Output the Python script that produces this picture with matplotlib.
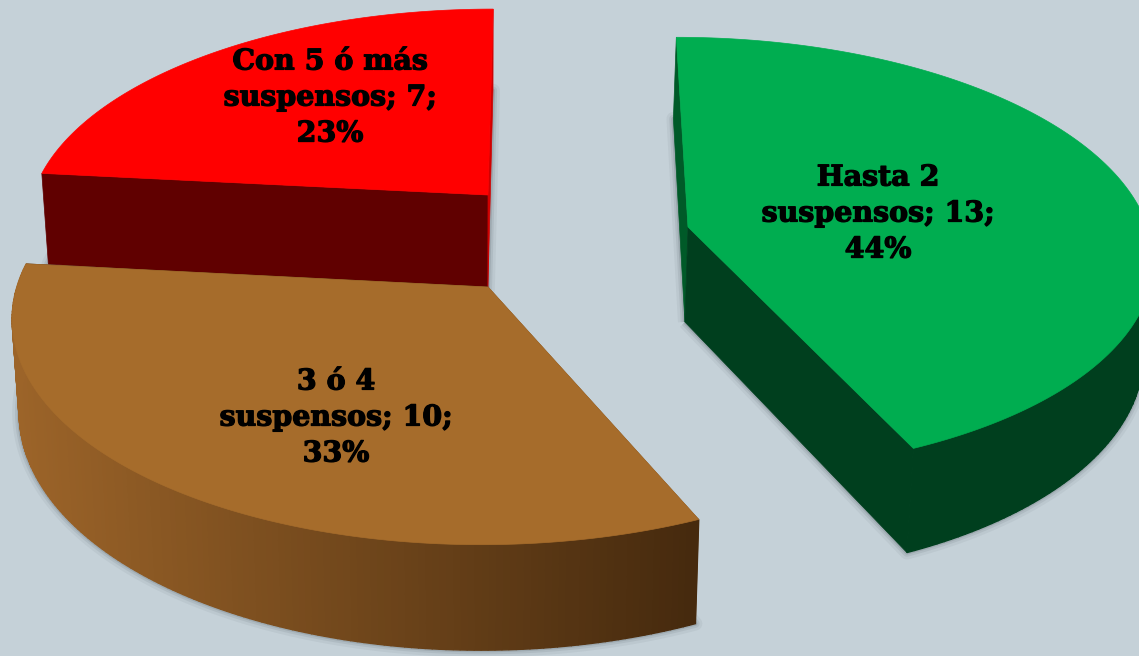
import numpy as np
import matplotlib
matplotlib.use("Agg")
import matplotlib.pyplot as plt
import matplotlib.patheffects as pe
from matplotlib.colors import to_rgb

categories = ["Hasta 2\nsuspensos", "3 ó 4\nsuspensos", "Con 5 ó más\nsuspensos"]
counts = [13, 10, 7]
percents = ["44%", "33%", "23%"]

# where each exploded slice sits and how it is painted (in image pixels)
centers = [(688, 227), (488, 287), (488, 195)]
scale_x = [1.015, 1.04, 1.005]
scale_y = [1.0, 1.05, 0.98]
top_colors = ["#00ad50", "#a66c2b", "#ff0000"]
start_face = ["#005a28", "#7a4e1f", "#600000"]
end_face = ["#003f1e", "#462a0e", "#d00000"]
label_pos = [(878, 214), (336, 418), (330, 98)]
draw_order = [2, 0, 1]

BG = "#c5d1d8"
A, B, K = 453, 214, 0.128      # pie radius, depth, perspective
HEIGHT = 92
VX_TOP, SKEW = 550, 0.094
VX_BOT, TAPER = 480, 0.015


def project(i, theta):
    # theta runs clockwise from the far point of the pie
    cx, cy = centers[i]
    x, z = np.sin(theta), np.cos(theta)
    d = 1 + K * z
    px = cx + scale_x[i] * (A * x + SKEW * (VX_TOP - cx) * z) / d
    py = cy - scale_y[i] * B * z / d
    return px, py


def drop(px, py, theta):
    z = np.cos(theta)
    return px + (VX_BOT - px) * TAPER, py + HEIGHT / (1 + K * z)


def rim_color(i, x):
    if i == 0:
        return "#003f1e"
    if i == 2:
        return "#600000"
    # the brown rim darkens towards the right
    t = np.clip((x - 15) / 680, 0, 1)
    c0, c1 = np.array(to_rgb("#9c6429")), np.array(to_rgb("#462a0e"))
    return tuple(c0 + (c1 - c0) * t)


fig = plt.figure(figsize=(11.39, 6.56), dpi=100, facecolor=BG)
ax = fig.add_axes([0, 0, 1, 1])
ax.set_xlim(0, 1139)
ax.set_ylim(656, 0)
ax.axis("off")

edges = np.cumsum([0] + counts) / sum(counts) * 2 * np.pi
for i in draw_order:
    cx, cy = centers[i]
    th = np.linspace(edges[i], edges[i + 1], 161)
    tx, ty = project(i, th)
    bx, by = drop(tx, ty, th)
    cbx = cx + (VX_BOT - cx) * TAPER
    cby = cy + HEIGHT + 3

    # soft shadow under the slice
    for lw, alpha in [(10, 0.05), (6, 0.08), (3, 0.12)]:
        ax.fill(np.r_[cbx, bx], np.r_[cby, by], facecolor="none", edgecolor="#202830",
                alpha=alpha, lw=lw, joinstyle="round")

    # flat faces along the two cuts
    ax.fill([cx, tx[0], bx[0], cbx], [cy, ty[0], by[0], cby], color=start_face[i], lw=0.5)
    ax.fill([cx, tx[-1], bx[-1], cbx], [cy, ty[-1], by[-1], cby], color=end_face[i], lw=0.5)

    # outer rim, only the part that faces the viewer
    for j in range(len(th) - 1):
        if np.cos(th[j]) > 0.1:
            continue
        ax.fill([tx[j], tx[j + 1], bx[j + 1], bx[j]], [ty[j], ty[j + 1], by[j + 1], by[j]],
                color=rim_color(i, tx[j]), lw=1.0)

    # top of the slice
    ax.fill(np.r_[cx, tx], np.r_[cy, ty], color=top_colors[i], lw=0.5)

    ax.text(label_pos[i][0], label_pos[i][1], f"{categories[i]}; {counts[i]};\n{percents[i]}",
            ha="center", va="center", ma="center", family="DejaVu Serif", weight="bold",
            fontsize=20.5, color="black", linespacing=1.43,
            path_effects=[pe.withStroke(linewidth=0.9, foreground="black")])

fig.savefig("out.png", dpi=100, facecolor=BG)
